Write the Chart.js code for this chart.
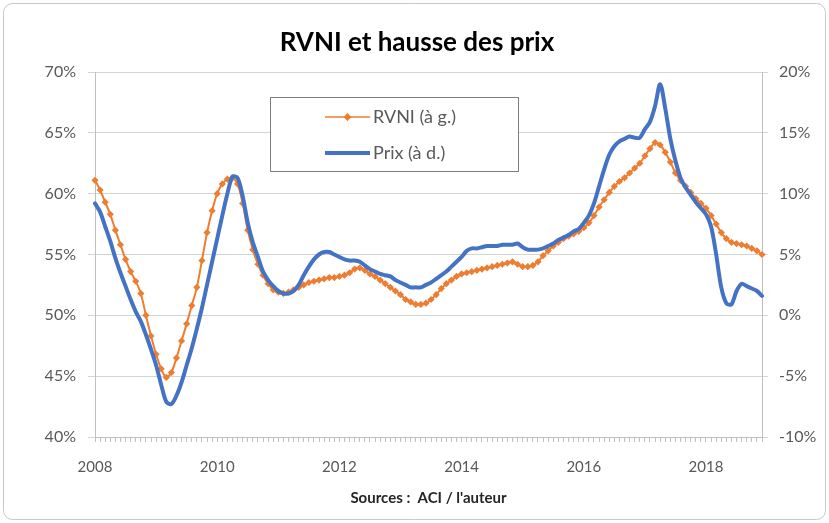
<!DOCTYPE html>
<html>
<head>
<meta charset="utf-8">
<title>RVNI et hausse des prix</title>
<script src="https://cdn.jsdelivr.net/npm/chart.js@4"></script>
<style>
  html, body { margin: 0; padding: 0; background: #fff; }
  #wrap { width: 829px; height: 523px; }
</style>
</head>
<body>
<div id="wrap"><canvas id="chart" width="829" height="523"></canvas></div>
<script>
// Monthly series, Jan 2008 - Dec 2018
const startYear = 2008;
const yearCount = 11;
const leftTicks = [40, 45, 50, 55, 60, 65, 70];     // RVNI (à g.)
const rightTicks = [-10, -5, 0, 5, 10, 15, 20];     // Prix (à d.)

const rvni = [
  61.1, 60.3, 59.3, 58.3, 57.0, 55.8, 54.6, 53.6, 52.8, 51.8, 50.0, 48.3,
  46.8, 45.6, 44.9, 45.3, 46.5, 47.9, 49.3, 50.8, 52.3, 54.5, 56.8, 58.6,
  60.0, 60.8, 61.2, 61.3, 60.8, 59.2, 57.0, 55.4, 54.2, 53.3, 52.6, 52.1,
  51.9, 51.8, 51.9, 52.1, 52.3, 52.5, 52.7, 52.8, 52.9, 53.0, 53.1, 53.1,
  53.2, 53.3, 53.5, 53.8, 53.9, 53.7, 53.4, 53.2, 52.9, 52.6, 52.3, 52.0,
  51.7, 51.3, 51.1, 50.9, 50.9, 51.0, 51.3, 51.7, 52.2, 52.6, 52.9, 53.2,
  53.4, 53.5, 53.6, 53.7, 53.8, 53.9, 54.0, 54.1, 54.2, 54.3, 54.4, 54.2,
  54.0, 54.0, 54.1, 54.4, 54.9, 55.3, 55.7, 56.0, 56.3, 56.5, 56.7, 56.9,
  57.2, 57.6, 58.2, 58.9, 59.5, 60.1, 60.6, 61.0, 61.3, 61.7, 62.1, 62.5,
  63.1, 63.7, 64.2, 64.0, 63.4, 62.6, 61.7, 61.1, 60.6, 60.1, 59.6, 59.2,
  58.8, 58.2, 57.5, 56.8, 56.3, 56.0, 55.9, 55.8, 55.7, 55.5, 55.3, 55.0
];

const prix = [
  9.2, 8.5, 7.3, 6.1, 4.7, 3.5, 2.4, 1.3, 0.3, -0.5, -1.6, -2.8,
  -4.1, -5.7, -7.1, -7.3, -6.6, -5.5, -4.1, -2.7, -1.1, 0.6, 2.5, 4.4,
  6.3, 8.2, 10.0, 11.4, 11.3, 9.8, 7.6, 6.0, 4.8, 3.6, 2.9, 2.4,
  2.0, 1.8, 1.8, 2.0, 2.5, 3.3, 4.0, 4.6, 5.0, 5.2, 5.2, 5.0,
  4.8, 4.6, 4.5, 4.5, 4.4, 4.1, 3.8, 3.6, 3.4, 3.3, 3.2, 2.9,
  2.7, 2.5, 2.3, 2.3, 2.3, 2.5, 2.7, 3.0, 3.3, 3.6, 4.0, 4.4,
  4.8, 5.3, 5.5, 5.5, 5.6, 5.7, 5.7, 5.7, 5.8, 5.8, 5.8, 5.9,
  5.6, 5.4, 5.4, 5.4, 5.5, 5.7, 5.9, 6.2, 6.4, 6.6, 6.9, 7.1,
  7.6, 8.2, 9.2, 10.6, 12.0, 13.2, 13.9, 14.3, 14.5, 14.7, 14.6, 14.6,
  15.3, 15.9, 17.2, 19.0, 17.0, 14.5, 12.7, 11.3, 10.5, 9.9, 9.3, 8.8,
  8.3, 7.3, 5.0, 2.3, 1.0, 0.9, 2.0, 2.6, 2.4, 2.2, 2.0, 1.6
];

// category labels "YYYY-MM"
const months = [];
for (let y = 0; y < yearCount; y++) {
  for (let m = 1; m <= 12; m++) {
    months.push((startYear + y) + "-" + String(m).padStart(2, "0"));
  }
}

const FONT = "Lato, 'Open Sans', sans-serif";
const ORANGE = "#ED7D31";
const BLUE = "#4472C4";
const AXIS_GREY = "#bfbfbf";
const LABEL_GREY = "#595959";

// Excel style frame, title and in-plot legend
const decorations = {
  id: "decorations",
  beforeDraw(chart) {
    const ctx = chart.ctx;
    ctx.save();
    ctx.fillStyle = "#fff";
    ctx.fillRect(0, 0, chart.width, chart.height);
    ctx.strokeStyle = "#c9c9c9";
    ctx.lineWidth = 1;
    ctx.beginPath();
    ctx.roundRect(3.5, 3.5, chart.width - 7, chart.height - 7, 9);
    ctx.stroke();
    ctx.restore();
  },
  afterDraw(chart) {
    const ctx = chart.ctx;
    ctx.save();
    // title
    ctx.fillStyle = "#000";
    ctx.font = "bold 26px " + FONT;
    ctx.textAlign = "center";
    ctx.textBaseline = "middle";
    ctx.fillText("RVNI et hausse des prix", 417, 43);

    // legend box
    ctx.fillStyle = "#fff";
    ctx.fillRect(271, 98, 247, 73);
    ctx.strokeStyle = "#7f7f7f";
    ctx.lineWidth = 1;
    ctx.strokeRect(270.5, 97.5, 248, 74);

    // RVNI entry
    ctx.strokeStyle = ORANGE;
    ctx.lineWidth = 1.5;
    ctx.beginPath();
    ctx.moveTo(325, 117);
    ctx.lineTo(370, 117);
    ctx.stroke();
    ctx.fillStyle = ORANGE;
    ctx.beginPath();
    ctx.moveTo(347.5, 113);
    ctx.lineTo(351.5, 117);
    ctx.lineTo(347.5, 121);
    ctx.lineTo(343.5, 117);
    ctx.closePath();
    ctx.fill();

    // Prix entry
    ctx.strokeStyle = BLUE;
    ctx.lineWidth = 4;
    ctx.beginPath();
    ctx.moveTo(325, 153);
    ctx.lineTo(370, 153);
    ctx.stroke();

    ctx.fillStyle = LABEL_GREY;
    ctx.font = "18px " + FONT;
    ctx.textAlign = "left";
    ctx.fillText("RVNI (à g.)", 373, 117);
    ctx.fillText("Prix (à d.)", 373, 153);
    ctx.restore();
  }
};

new Chart(document.getElementById("chart"), {
  type: "line",
  data: {
    labels: months,
    datasets: [
      {
        label: "RVNI (à g.)",
        data: rvni,
        yAxisID: "y",
        borderColor: ORANGE,
        borderWidth: 2,
        pointStyle: "rectRot",
        pointRadius: 3.6,
        pointBackgroundColor: ORANGE,
        pointBorderColor: ORANGE,
        pointBorderWidth: 0,
        tension: 0.3,
        order: 2
      },
      {
        label: "Prix (à d.)",
        data: prix,
        yAxisID: "y1",
        borderColor: BLUE,
        borderWidth: 4,
        pointRadius: 0,
        tension: 0.3,
        borderCapStyle: "round",
        borderJoinStyle: "round",
        order: 1
      }
    ]
  },
  options: {
    responsive: false,
    animation: false,
    devicePixelRatio: 1,
    layout: { padding: { top: 72, left: 0, right: 0, bottom: 0 } },
    plugins: {
      legend: { display: false },
      title: { display: false },
      tooltip: { enabled: false }
    },
    scales: {
      x: {
        type: "category",
        offset: false,
        grid: { drawOnChartArea: false, tickLength: 5, color: AXIS_GREY },
        border: { color: AXIS_GREY },
        ticks: {
          autoSkip: false,
          maxRotation: 0,
          padding: 16,
          color: LABEL_GREY,
          font: { family: FONT, size: 15 },
          callback: function (val, idx) {
            return idx % 24 === 0 ? this.getLabelForValue(val).slice(0, 4) : "";
          }
        },
        title: {
          display: true,
          text: "Sources :  ACI / l'auteur",
          color: "#262626",
          font: { family: FONT, size: 15, weight: "bold" },
          padding: { top: 4, bottom: 16 }
        },
        afterFit(scale) { scale.height = 86; }
      },
      y: {
        position: "left",
        min: 40,
        max: 70,
        afterBuildTicks(scale) { scale.ticks = leftTicks.map(v => ({ value: v })); },
        grid: { color: "#d4d4d4", tickLength: 7 },
        border: { color: AXIS_GREY },
        ticks: {
          padding: 12,
          color: LABEL_GREY,
          font: { family: FONT, size: 16 },
          callback: v => v + "%"
        },
        afterFit(scale) { scale.width = 95; }
      },
      y1: {
        position: "right",
        min: -10,
        max: 20,
        afterBuildTicks(scale) { scale.ticks = rightTicks.map(v => ({ value: v })); },
        grid: { drawOnChartArea: false, color: "#d4d4d4", tickLength: 6 },
        border: { color: AXIS_GREY },
        ticks: {
          padding: 11,
          color: LABEL_GREY,
          font: { family: FONT, size: 16 },
          callback: v => v + "%"
        },
        afterFit(scale) { scale.width = 67; }
      }
    }
  },
  plugins: [decorations]
});
</script>
</body>
</html>
